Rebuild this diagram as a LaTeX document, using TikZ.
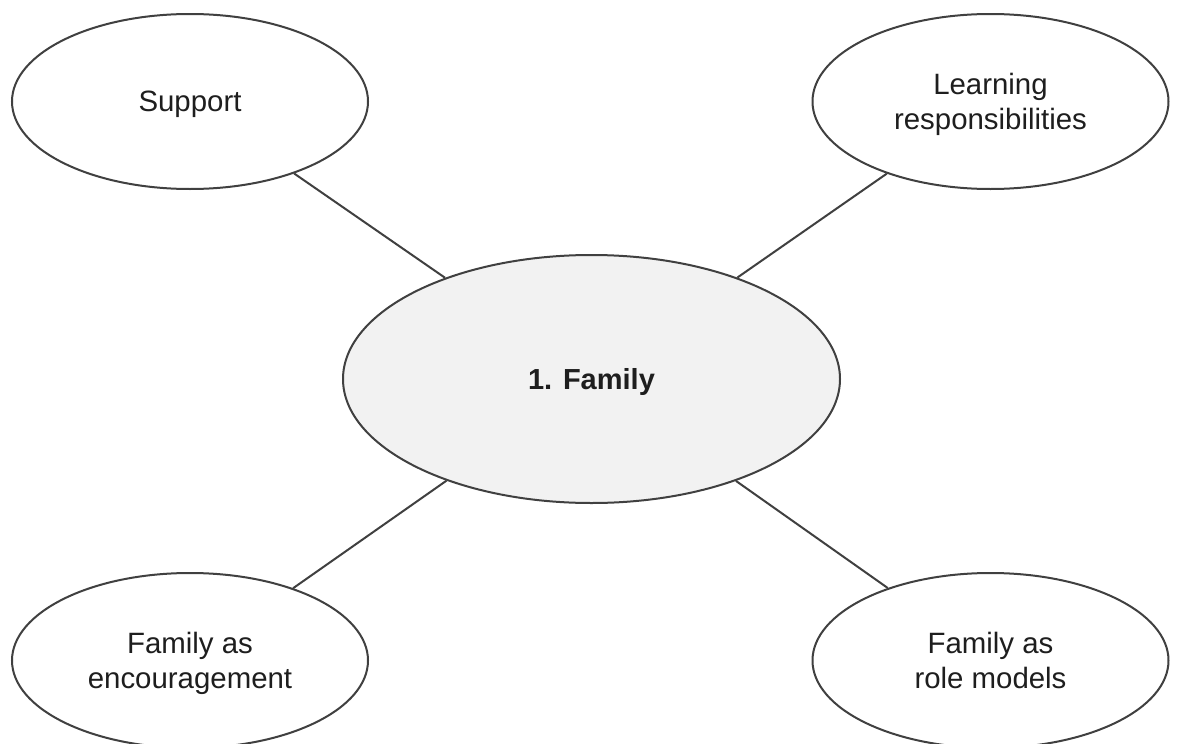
\documentclass[tikz,border=0pt]{standalone}
\usepackage{fontspec}
\setmainfont{Liberation Sans}
\usetikzlibrary{shapes.geometric}
\definecolor{linegray}{HTML}{404040}
\definecolor{fillgray}{HTML}{F2F2F2}
\definecolor{textgray}{HTML}{1E1E1E}
\begin{document}
\begin{tikzpicture}[x=0.5pt,y=-0.5pt,
  bubble/.style={ellipse, draw=linegray, line width=1pt, fill=white,
    inner sep=0pt, minimum width=178pt, minimum height=87.5pt, text depth=0pt,
    align=center, text=textgray, font=\fontsize{14.7}{17.5}\selectfont},
  hub/.style={bubble, fill=fillgray, minimum width=248.5pt, minimum height=124pt,
    font=\fontsize{14.5}{17.5}\selectfont\bfseries},
  link/.style={draw=linegray, line width=1pt}]
\useasboundingbox (0,0) rectangle (1179,744);
\clip (0,0) rectangle (1179,744);
\node[hub] (fam) at (591.5,379) {1. Family};
\node[bubble] (sup) at (190,101.5) {Support};
\node[bubble] (learn) at (990.5,101.5) {Learning\\responsibilities};
\node[bubble] (enc) at (190,660.5) {Family as\\encouragement};
\node[bubble] (role) at (990.5,660.5) {Family as\\role models};
\draw[link] (sup) -- (fam);
\draw[link] (learn) -- (fam);
\draw[link] (enc) -- (fam);
\draw[link] (role) -- (fam);
\end{tikzpicture}
\end{document}
